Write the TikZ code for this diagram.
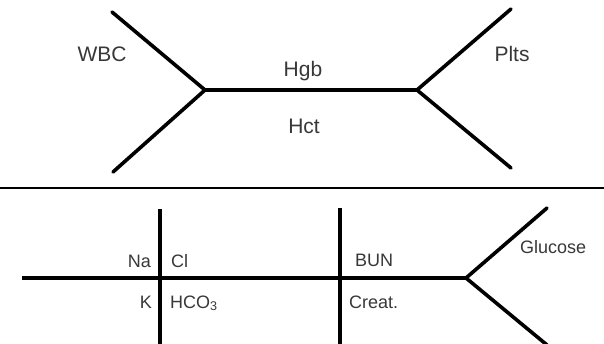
\documentclass[tikz,border=0pt]{standalone}
\usepackage{fontspec}
\setmainfont{Liberation Sans}
\definecolor{labelgray}{HTML}{383838}
\begin{document}
\begin{tikzpicture}[x=1pt,y=-1pt,
  bone/.style={line width=3.6pt,line cap=round,line join=miter,black},
  thinbone/.style={line width=3.1pt,black},
  rule/.style={line width=2.8pt,black},
  lab/.style={inner sep=0pt,text=labelgray,font=\fontsize{18}{21}\selectfont},
  biglab/.style={lab,font=\fontsize{21}{24}\selectfont}]
\useasboundingbox (0,0) rectangle (604,344);
\fill[white] (0,0) rectangle (604,344);

% ---- complete blood count skeleton ----
\coordinate (wbcEnd) at (112,12);
\coordinate (lowLeftEnd) at (113,172);
\coordinate (leftFork) at (205,90);
\coordinate (rightFork) at (417,90);
\coordinate (pltEnd) at (511,9);
\coordinate (lowRightEnd) at (511,168);
\draw[bone] (wbcEnd) -- (leftFork) -- (lowLeftEnd);
\draw[bone] (pltEnd) -- (rightFork) -- (lowRightEnd);
\draw[bone] (leftFork) -- (rightFork);

\node[biglab,anchor=base] (wbc) at (102,62) {WBC};
\node[biglab,anchor=base] (plts) at (512,62) {Plts};
\node[biglab,anchor=base] (hgb) at (303,77) {Hgb};
\node[biglab,anchor=base] (hct) at (304,134) {Hct};

% ---- divider ----
\coordinate (ruleL) at (0,188);
\coordinate (ruleR) at (604,188);
\draw[rule] (ruleL) -- (ruleR);

% ---- chemistry skeleton ----
\coordinate (chemStart) at (22,278);
\coordinate (chemFork) at (466,278);
\coordinate (gluEnd) at (547,208);
\coordinate (lowGluEnd) at (547,345);
\coordinate (barAtop) at (160,209);
\coordinate (barAbot) at (160,346);
\coordinate (barBtop) at (340,208);
\coordinate (barBbot) at (340,346);
\draw[thinbone] (chemStart) -- (chemFork);
\draw[bone] (gluEnd) -- (chemFork) -- (lowGluEnd);
\draw[thinbone] (barAtop) -- (barAbot);
\draw[thinbone] (barBtop) -- (barBbot);

\node[lab,anchor=base east] (na) at (151,267) {Na};
\node[lab,anchor=base west] (cl) at (171,267) {Cl};
\node[lab,anchor=base east] (k) at (152,308) {K};
\node[lab,anchor=base west] (hco) at (170,308) {HCO\textsubscript{3}};
\node[lab,anchor=base west] (bun) at (355,266) {BUN};
\node[lab,anchor=base west] (creat) at (349,308) {Creat.};
\node[lab,anchor=base west] (glu) at (520,254) {Glucose};
\end{tikzpicture}
\end{document}
